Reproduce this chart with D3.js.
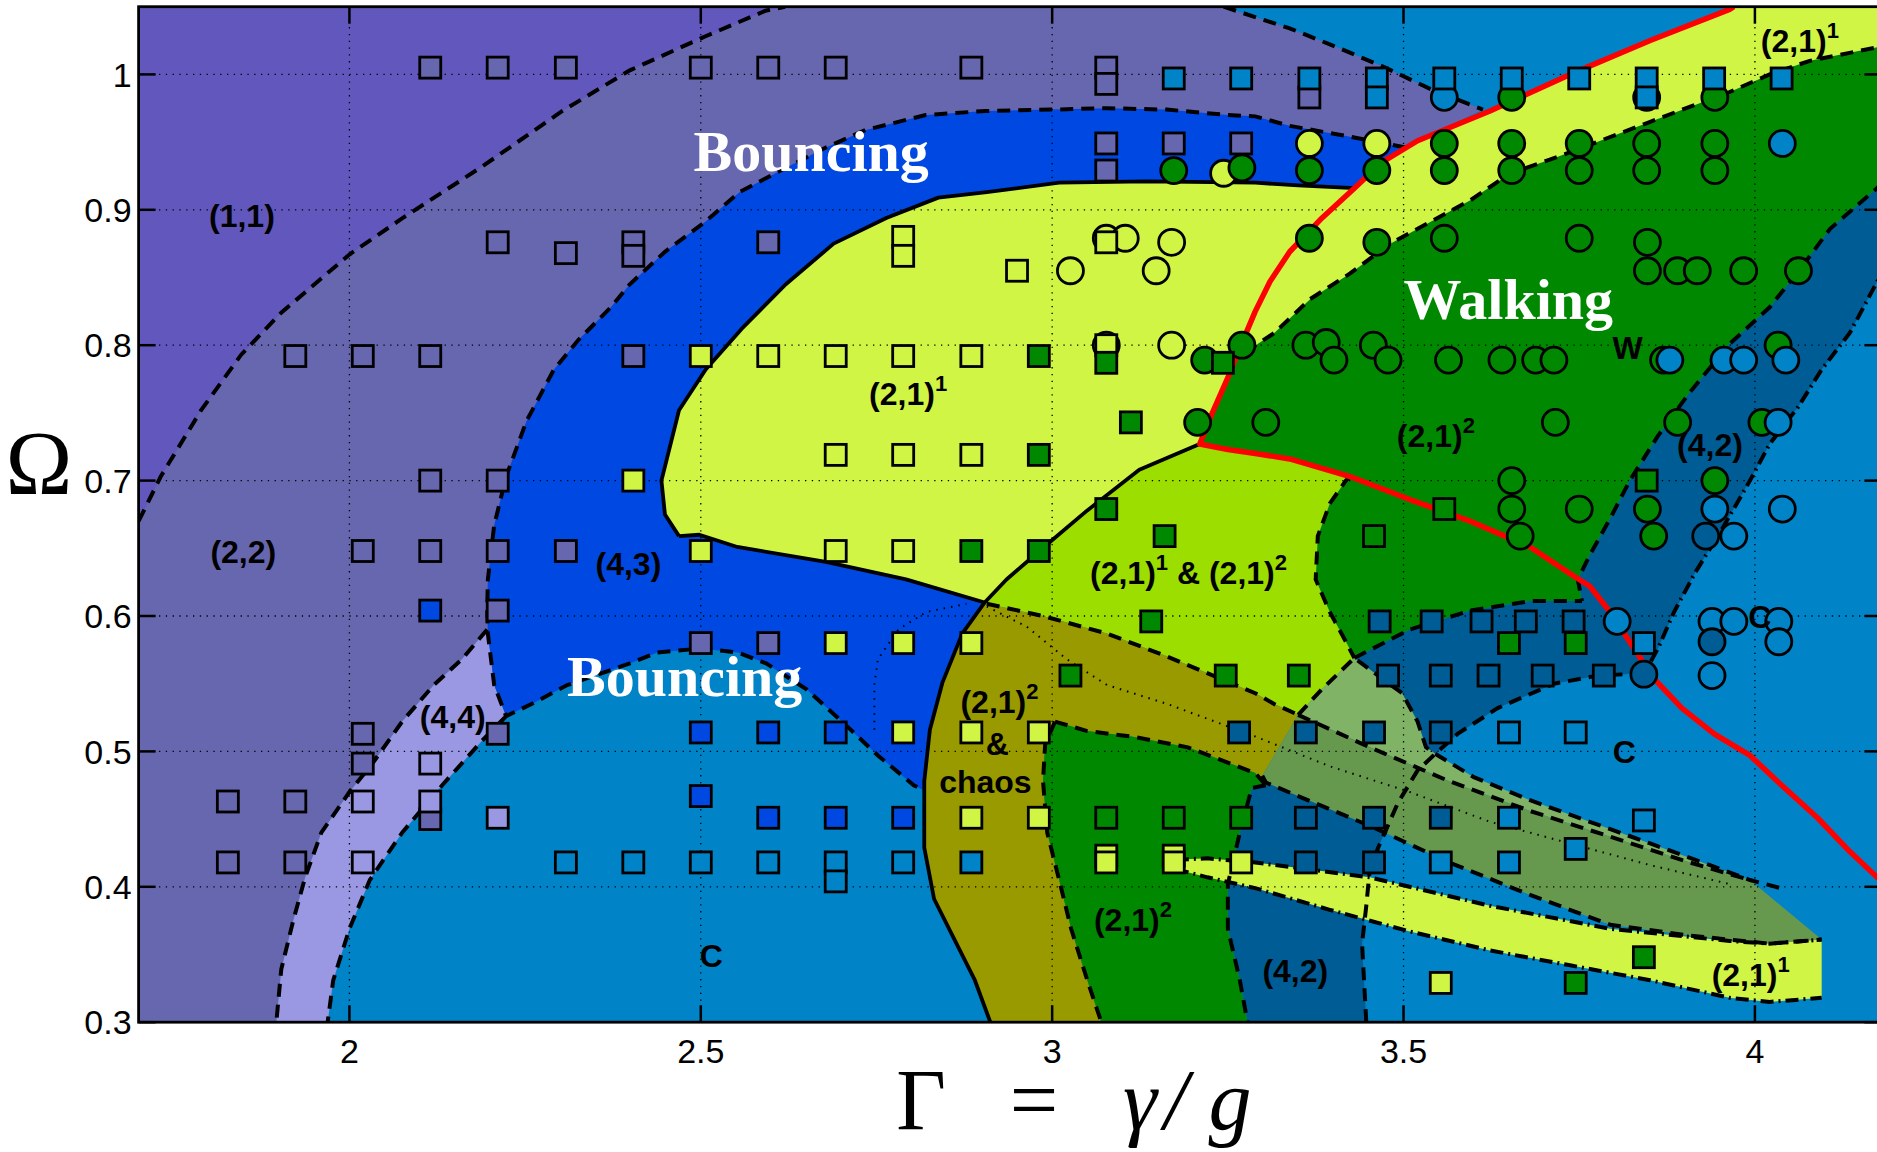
<!DOCTYPE html>
<html><head><meta charset="utf-8">
<script src="https://cdn.jsdelivr.net/npm/d3@7"></script>
<style>body{margin:0;background:#fff}svg{display:block}</style>
</head><body>
<svg id="chart" width="1877" height="1152"></svg>
<script>
// ---------- axis ticks ----------
const xTicks = [2, 2.5, 3, 3.5, 4];
const yTicks = [0.3, 0.4, 0.5, 0.6, 0.7, 0.8, 0.9, 1];
const yTickLabels = ["0.3","0.4","0.5","0.6","0.7","0.8","0.9","1"];
const xTickLabels = ["2","2.5","3","3.5","4"];

// ---------- region boundaries (Gamma, Omega) ----------
const c11 = [[1.7,0.670],[1.7315,0.703],[1.789,0.752],[1.846,0.793],[1.903,0.824],[2.0,0.867],[2.076,0.894],[2.189,0.932],[2.303,0.973],[2.399,1.003],[2.506,1.028],[2.592,1.047],[2.62,1.05]];
const cSlateTR = [[3.244,1.05],[3.338,1.034],[3.396,1.022],[3.470,1.006],[3.539,0.989],[3.613,0.974]];
const c44L = [[2.196,0.590],[2.160,0.568],[2.120,0.549],[2.075,0.522],[2.034,0.492],[2.000,0.470],[1.960,0.440],[1.937,0.407],[1.920,0.375],[1.903,0.339],[1.896,0.300]];
const c44R = [[2.223,0.526],[2.189,0.508],[2.132,0.475],[2.075,0.440],[2.029,0.405],[2.000,0.369],[1.977,0.331],[1.969,0.300]];
const c43 = [[3.503,0.946],[3.424,0.954],[3.338,0.962],[3.289,0.969],[3.250,0.970],[3.163,0.974],[3.078,0.975],[2.998,0.974],[2.905,0.973],[2.820,0.970],[2.735,0.959],[2.678,0.946],[2.621,0.931],[2.555,0.913],[2.506,0.891],[2.449,0.869],[2.399,0.845],[2.372,0.828],[2.326,0.804],[2.291,0.782],[2.252,0.744],[2.223,0.703],[2.206,0.667],[2.197,0.627],[2.196,0.604],[2.197,0.587],[2.206,0.549],[2.223,0.526],[2.263,0.536],[2.310,0.549],[2.399,0.565],[2.438,0.573],[2.500,0.576],[2.553,0.573],[2.593,0.565],[2.650,0.546],[2.701,0.522],[2.752,0.497],[2.803,0.475],[2.818,0.471]];
const cChaosL = [[2.904,0.610],[2.872,0.587],[2.844,0.551],[2.826,0.516],[2.818,0.478],[2.818,0.429],[2.832,0.391],[2.861,0.361],[2.890,0.331],[2.912,0.300]];
const cYtop = [[2.469,0.659],[2.449,0.675],[2.444,0.700],[2.469,0.752],[2.507,0.782],[2.558,0.812],[2.621,0.845],[2.689,0.875],[2.764,0.894],[2.838,0.909],[2.907,0.913],[3.010,0.920],[3.135,0.921],[3.289,0.920],[3.350,0.918],[3.430,0.916]];
const cYbot = [[2.904,0.610],[2.792,0.627],[2.678,0.640],[2.552,0.651],[2.498,0.660],[2.469,0.659]];
const cLimeL = [[2.904,0.610],[2.935,0.627],[2.993,0.653],[3.050,0.678],[3.124,0.708],[3.210,0.727]];
const redUpper = [[3.97,1.05],[3.964,1.048],[3.851,1.025],[3.737,1.000],[3.623,0.973],[3.520,0.951],[3.469,0.935],[3.430,0.916],[3.384,0.894],[3.338,0.869],[3.310,0.847],[3.289,0.825],[3.267,0.798],[3.250,0.776],[3.227,0.749],[3.210,0.727]];
const redLower = [[3.210,0.727],[3.250,0.723],[3.289,0.720],[3.338,0.716],[3.424,0.703],[3.509,0.686],[3.595,0.670],[3.680,0.651],[3.735,0.632],[3.765,0.622],[3.794,0.603],[3.828,0.576],[3.856,0.554],[3.896,0.532],[3.942,0.513],[3.993,0.497],[4.038,0.475],[4.089,0.451],[4.135,0.426],[4.174,0.407],[4.22,0.39]];
const cWalkTop = [[3.275,0.795],[3.316,0.809],[3.367,0.834],[3.424,0.853],[3.481,0.875],[3.538,0.891],[3.595,0.907],[3.652,0.927],[3.708,0.937],[3.765,0.948],[3.851,0.965],[3.907,0.976],[3.964,0.987],[4.021,1.000],[4.078,1.010],[4.174,1.020],[4.22,1.023]];
const cLimeR = [[3.424,0.703],[3.418,0.700],[3.395,0.683],[3.378,0.659],[3.375,0.627],[3.395,0.603],[3.418,0.581],[3.430,0.569]];
const cGreenLow = [[3.430,0.569],[3.509,0.590],[3.595,0.604],[3.680,0.611],[3.754,0.611]];
const c42L = [[4.22,0.945],[4.174,0.916],[4.107,0.886],[4.067,0.858],[4.021,0.828],[3.964,0.801],[3.907,0.765],[3.862,0.733],[3.822,0.700],[3.794,0.672],[3.765,0.645],[3.748,0.627],[3.754,0.611]];
const c42R = [[4.22,0.87],[4.174,0.847],[4.135,0.809],[4.095,0.782],[4.061,0.754],[4.021,0.727],[3.993,0.700],[3.953,0.664],[3.915,0.632],[3.885,0.603],[3.862,0.576],[3.845,0.560]];
const cDarkC = [[3.447,0.300],[3.441,0.358],[3.447,0.386],[3.452,0.413],[3.464,0.429],[3.492,0.462],[3.520,0.486],[3.549,0.500],[3.577,0.513],[3.634,0.532],[3.714,0.550],[3.777,0.556],[3.816,0.557],[3.845,0.560]];
const cG2L = [[3.004,0.522],[2.990,0.505],[2.987,0.478],[2.993,0.440],[3.010,0.405],[3.027,0.369],[3.050,0.331],[3.070,0.300]];
const cG2T = [[3.004,0.522],[3.050,0.515],[3.113,0.511],[3.193,0.503],[3.289,0.484],[3.304,0.475]];
const cG2R = [[3.304,0.475],[3.284,0.473],[3.267,0.440],[3.250,0.402],[3.250,0.369],[3.267,0.331],[3.278,0.300]];
const cLimeB = [[2.907,0.609],[2.987,0.600],[3.078,0.587],[3.164,0.570],[3.289,0.543],[3.316,0.535],[3.350,0.527]];
const cBandBTop = [[3.350,0.527],[3.384,0.546],[3.430,0.569],[3.469,0.554],[3.498,0.543],[3.520,0.522],[3.532,0.503],[3.549,0.497],[3.600,0.481],[3.680,0.464],[3.765,0.448],[3.851,0.432],[3.936,0.416],[3.993,0.405],[4.044,0.398]];
const cBandATop = [[3.350,0.527],[3.452,0.503],[3.565,0.478],[3.680,0.456],[3.794,0.437],[3.907,0.418],[3.993,0.405]];
const cBandABot = [[3.299,0.482],[3.304,0.477],[3.350,0.467],[3.452,0.445],[3.565,0.418],[3.680,0.394],[3.794,0.372],[3.907,0.364],[4.021,0.358],[4.095,0.361]];
const cYlowTop = [[3.176,0.420],[3.221,0.421],[3.289,0.418],[3.452,0.407],[3.623,0.386],[3.794,0.369],[3.964,0.360],[4.021,0.358],[4.095,0.361]];
const cYlowBot = [[3.176,0.413],[3.221,0.407],[3.289,0.399],[3.395,0.383],[3.509,0.367],[3.623,0.353],[3.737,0.342],[3.851,0.331],[3.964,0.318],[4.021,0.315],[4.095,0.318]];
const cDot1 = [[2.907,0.607],[2.964,0.592],[3.021,0.568],[3.078,0.549],[3.164,0.535],[3.289,0.511],[3.395,0.489],[3.509,0.470],[3.623,0.448],[3.737,0.432],[3.851,0.416],[3.964,0.402]];
const cDot2 = [[2.747,0.516],[2.747,0.549],[2.752,0.568],[2.781,0.590],[2.821,0.603],[2.878,0.609]];

// ---------- markers: squares ----------
const sqSlate = [[2.115,1.005],[2.211,1.005],[2.308,1.005],[2.5,1.005],[2.596,1.005],[2.692,1.005],[2.885,1.005],[3.077,1.005],[3.077,0.993],[3.366,0.983],[3.077,0.949],[3.173,0.949],[3.269,0.949],[3.077,0.929],[2.211,0.876],[2.404,0.876],[2.596,0.876],[2.308,0.868],[2.404,0.866],[1.923,0.792],[2.019,0.792],[2.115,0.792],[2.404,0.792],[2.115,0.700],[2.211,0.700],[2.019,0.648],[2.115,0.648],[2.211,0.648],[2.308,0.648],[2.211,0.604],[2.5,0.580],[2.596,0.580],[2.019,0.513],[2.211,0.513],[2.019,0.491],[1.827,0.463],[1.923,0.463],[2.115,0.450],[1.827,0.418],[1.923,0.418]];
const sqC = [[3.173,0.997],[3.269,0.997],[3.366,0.997],[3.462,0.997],[3.462,0.983],[3.558,0.997],[3.654,0.997],[3.750,0.997],[3.846,0.997],[3.846,0.983],[3.942,0.997],[4.038,0.997],[3.842,0.580],[3.650,0.514],[3.745,0.514],[3.650,0.451],[3.842,0.449],[3.745,0.428],[2.308,0.418],[2.404,0.418],[2.5,0.418],[2.596,0.418],[2.692,0.418],[2.692,0.404],[2.788,0.418],[2.885,0.418],[3.553,0.418],[3.650,0.418]];
const sqBright = [[2.115,0.604],[2.5,0.514],[2.596,0.514],[2.692,0.514],[2.5,0.467],[2.596,0.451],[2.692,0.451],[2.788,0.451]];
const sqYellow = [[2.788,0.880],[2.788,0.866],[3.077,0.876],[2.95,0.855],[2.5,0.792],[2.596,0.792],[2.692,0.792],[2.788,0.792],[2.885,0.792],[3.077,0.800],[2.692,0.719],[2.788,0.719],[2.885,0.719],[2.404,0.700],[2.5,0.648],[2.692,0.648],[2.788,0.648],[2.692,0.580],[2.788,0.580],[2.885,0.580],[2.788,0.514],[2.885,0.514],[2.981,0.514],[2.885,0.451],[2.981,0.451],[3.077,0.423],[3.077,0.418],[3.173,0.423],[3.173,0.418],[3.269,0.418],[3.553,0.329]];
const sqGreen = [[2.981,0.792],[3.077,0.787],[3.243,0.787],[3.112,0.743],[2.981,0.719],[3.077,0.679],[3.160,0.659],[2.885,0.648],[2.981,0.648],[3.141,0.596],[3.026,0.556],[3.247,0.556],[3.351,0.556],[3.650,0.580],[3.745,0.580],[3.077,0.451],[3.173,0.451],[3.269,0.451],[3.558,0.679],[3.458,0.659],[3.846,0.700],[3.745,0.329],[3.842,0.348]];
const sqLav = [[2.115,0.491],[2.019,0.463],[2.115,0.463],[2.211,0.451],[2.019,0.418]];
const sqDark = [[3.466,0.596],[3.540,0.596],[3.611,0.596],[3.674,0.596],[3.742,0.596],[3.478,0.556],[3.553,0.556],[3.621,0.556],[3.698,0.556],[3.785,0.556],[3.266,0.514],[3.361,0.514],[3.458,0.514],[3.553,0.514],[3.361,0.451],[3.458,0.451],[3.553,0.451],[3.361,0.418],[3.458,0.418]];

// ---------- markers: circles ----------
const cirYellow = [[3.244,0.927],[3.366,0.949],[3.462,0.949],[3.077,0.879],[3.104,0.879],[3.170,0.876],[3.026,0.855],[3.148,0.855],[3.077,0.800],[3.170,0.800]];
const cirGreen = [[3.654,0.983],[3.943,0.983],[3.558,0.949],[3.654,0.949],[3.750,0.949],[3.846,0.949],[3.943,0.949],[3.173,0.929],[3.270,0.931],[3.366,0.929],[3.462,0.929],[3.558,0.929],[3.654,0.929],[3.750,0.929],[3.846,0.929],[3.943,0.929],[3.366,0.879],[3.462,0.876],[3.558,0.879],[3.750,0.879],[3.847,0.876],[3.847,0.855],[3.890,0.855],[3.918,0.855],[3.984,0.855],[4.062,0.855],[3.270,0.800],[3.361,0.800],[3.390,0.802],[3.457,0.800],[4.033,0.800],[3.217,0.789],[3.401,0.789],[3.478,0.789],[3.564,0.789],[3.640,0.789],[3.688,0.789],[3.714,0.789],[3.870,0.789],[3.207,0.743],[3.304,0.743],[3.716,0.743],[3.890,0.743],[4.010,0.743],[3.654,0.700],[3.943,0.700],[3.654,0.679],[3.750,0.679],[3.847,0.679],[3.666,0.659],[3.856,0.659]];
const cirC = [[3.558,0.983],[4.039,0.949],[3.879,0.789],[3.956,0.789],[3.984,0.789],[4.044,0.789],[4.033,0.743],[3.943,0.679],[4.039,0.679],[3.970,0.659],[3.804,0.596],[3.939,0.596],[3.970,0.596],[4.034,0.596],[4.034,0.581],[3.939,0.556]];
const cirDark = [[3.846,0.983],[3.930,0.659],[3.939,0.581],[3.842,0.557]];

// ---------- region labels ----------
const smallLabels = [["(1,1)",1.847,0.896],["(2,2)",1.849,0.648],["(4,4)",2.147,0.526],["(4,3)",2.397,0.639],["(2,1)^1",2.795,0.764],["(2,1)^1 & (2,1)^2",3.194,0.632],["(2,1)^2",2.925,0.537],["&",2.922,0.506],["chaos",2.905,0.478],["(2,1)^2",3.115,0.376],["(4,2)",3.346,0.338],["(2,1)^1",3.994,0.335],["(2,1)^2",3.546,0.733],["(4,2)",3.936,0.727],["W",3.819,0.798],["C",2.515,0.349],["C",3.814,0.500],["C",4.007,0.600],["(2,1)^1",4.064,1.025]];
const bigLabels = [["Bouncing",2.657,0.929],["Bouncing",2.477,0.541],["Walking",3.649,0.819]];

// ---------- drawing ----------
const col = {C:"#0083c7", slate:"#6767af", purple:"#6157bd", lav:"#9a98e2", bright:"#0048e2", yellow:"#d0f545", lime:"#9bde00", green:"#008900", olive:"#999900", dark:"#005c94", bandA:"#66994d", bandB:"#80b366"};
const svg = d3.select("#chart");
const x = d3.scaleLinear().domain([1.7, 4.18]).range([138.6, 1881.4]);
const y = d3.scaleLinear().domain([0.3, 1.05]).range([1022.2, 6.7]);
const X0 = x(1.7), X1 = x(4.18), Y0 = y(1.05), Y1 = y(0.3);
svg.append("defs").append("clipPath").attr("id","clip").append("rect")
  .attr("x",X0).attr("y",Y0).attr("width",X1-X0).attr("height",Y1-Y0);
const g = svg.append("g").attr("clip-path","url(#clip)");
const line = d3.line().x(d=>x(d[0])).y(d=>y(d[1]));
const rev = a => a.slice().reverse();

const reg22 = [[1.7,0.3],[1.7,1.05], ...cSlateTR, [3.520,0.951],[3.469,0.935],[3.0,0.80],[2.4,0.65], ...c44L];
const reg11 = [[1.7,1.05], ...c11];
const reg44 = [...c44L, ...rev(c44R), [2.206,0.549],[2.197,0.587]];
const reg43 = [...c43, [2.818,0.478],[2.826,0.516],[2.844,0.551],[2.872,0.587],[2.904,0.610],[3.2,0.75],[3.40,0.90]];
const regWalk = [[3.210,0.727],[3.227,0.749],[3.250,0.776],[3.267,0.798], ...cWalkTop, ...c42L, ...rev(cGreenLow), ...rev(cLimeR), [3.338,0.716],[3.289,0.720],[3.250,0.723]];
const regDark = [...c42L, ...rev(cGreenLow), [3.35,0.52],[3.30,0.48], ...cG2R, ...cDarkC, ...rev(c42R)];
const regY1 = [...cYtop, [3.469,0.935],[3.520,0.951],[3.623,0.973],[3.737,1.000],[3.851,1.025],[3.964,1.048],[3.97,1.05],[4.22,1.05], ...rev(cWalkTop), [3.267,0.798],[3.250,0.776],[3.227,0.749], ...rev(cLimeL), ...cYbot];
const regLime = [...cLimeL, [3.250,0.723],[3.289,0.720],[3.338,0.716], ...cLimeR, [3.384,0.546],[3.350,0.527], ...rev(cLimeB)];
const regChaos = [...cChaosL, ...rev(cG2L), ...cG2T.slice(1), [3.299,0.482],[3.350,0.527], ...rev(cLimeB)];
const regG2 = [...cG2T, ...cG2R.slice(1), ...rev(cG2L)];
const regBandB = [...cBandBTop.slice(0,14), ...rev(cBandATop)];
const regBandA = [...cBandATop, [4.095,0.361], ...rev(cBandABot)];
const regYlow = [...cYlowTop, ...rev(cYlowBot)];

g.append("rect").attr("x",X0).attr("y",Y0).attr("width",X1-X0).attr("height",Y1-Y0).attr("fill",col.C);
[[reg22,col.slate],[reg11,col.purple],[reg44,col.lav],[reg43,col.bright],[regWalk,col.green],[regDark,col.dark],[regY1,col.yellow],[regLime,col.lime],[regChaos,col.olive],[regG2,col.green],[regBandB,col.bandB],[regBandA,col.bandA],[regYlow,col.yellow]]
  .forEach(([pts,c]) => g.append("path").attr("d", line(pts)+"Z").attr("fill",c).attr("stroke","none"));

// grid
xTicks.forEach(t => g.append("line").attr("x1",x(t)).attr("x2",x(t)).attr("y1",Y0).attr("y2",Y1)
  .attr("stroke","#000").attr("stroke-width",1.3).attr("stroke-dasharray","1.3,5.5"));
yTicks.slice(1).forEach(t => g.append("line").attr("x1",X0).attr("x2",X1).attr("y1",y(t)).attr("y2",y(t))
  .attr("stroke","#000").attr("stroke-width",1.3).attr("stroke-dasharray","1.3,5.5"));

// boundaries
const dashed = [c11,cSlateTR,c43,c44L,c44R,cWalkTop,cLimeR,cGreenLow,c42L,cDarkC,cG2L,cG2T,cG2R,cLimeB,cBandBTop,cBandATop,cBandABot];
const dashdot = [c42R,cYlowTop,cYlowBot];
const solid = [cYtop,cYbot,cChaosL,cLimeL];
const dotted = [cDot1,cDot2];
dashed.forEach(p => g.append("path").attr("d",line(p)).attr("fill","none").attr("stroke","#000").attr("stroke-width",4).attr("stroke-dasharray","13,8"));
dashdot.forEach(p => g.append("path").attr("d",line(p)).attr("fill","none").attr("stroke","#000").attr("stroke-width",4).attr("stroke-dasharray","13,5,2,5"));
solid.forEach(p => g.append("path").attr("d",line(p)).attr("fill","none").attr("stroke","#000").attr("stroke-width",3.8).attr("stroke-linejoin","round"));
dotted.forEach(p => g.append("path").attr("d",line(p)).attr("fill","none").attr("stroke","#000").attr("stroke-width",2).attr("stroke-dasharray","1.5,6"));
g.append("path").attr("d",line([...redUpper, ...redLower.slice(1)])).attr("fill","none").attr("stroke","#ff0000").attr("stroke-width",5.5).attr("stroke-linejoin","round");

// markers
const R = 13, S = 21;
[[cirYellow,col.yellow],[cirGreen,col.green],[cirC,col.C],[cirDark,col.dark]].forEach(([pts,c]) =>
  g.selectAll(null).data(pts).enter().append("circle").attr("cx",d=>x(d[0])).attr("cy",d=>y(d[1])).attr("r",R)
    .attr("fill",c).attr("stroke","#000").attr("stroke-width",2.8));
[[sqSlate,col.slate],[sqC,col.C],[sqBright,col.bright],[sqYellow,col.yellow],[sqGreen,col.green],[sqLav,col.lav],[sqDark,col.dark]].forEach(([pts,c]) =>
  g.selectAll(null).data(pts).enter().append("rect").attr("x",d=>x(d[0])-S/2).attr("y",d=>y(d[1])-S/2).attr("width",S).attr("height",S)
    .attr("fill",c).attr("stroke","#000").attr("stroke-width",2.8));

// labels
smallLabels.forEach(([txt,gx,oy]) => {
  const t = g.append("text").attr("x",x(gx)).attr("y",y(oy)).attr("dy","0.36em").attr("text-anchor","middle")
    .attr("font-family","'Liberation Sans',Arial,sans-serif").attr("font-weight","bold").attr("font-size",32).attr("fill","#000");
  const parts = txt.split(/\^(\d)/);
  parts.forEach((p,i) => {
    if (!p) return;
    if (i % 2 === 1) t.append("tspan").attr("dy",-14).attr("font-size",22).text(p);
    else { const s = t.append("tspan").text(p); if (i>0) s.attr("dy",14); }
  });
});
bigLabels.forEach(([txt,gx,oy]) => g.append("text").attr("x",x(gx)).attr("y",y(oy)).attr("text-anchor","middle")
  .attr("font-family","'Liberation Serif','Times New Roman',serif").attr("font-weight","bold").attr("font-size",58).attr("fill","#fff").text(txt));

// axes box and ticks
svg.append("rect").attr("x",X0).attr("y",Y0).attr("width",X1-X0).attr("height",Y1-Y0).attr("fill","none").attr("stroke","#000").attr("stroke-width",2.8);
const TL = 17;
xTicks.forEach(t => {
  svg.append("line").attr("x1",x(t)).attr("x2",x(t)).attr("y1",Y1).attr("y2",Y1-TL).attr("stroke","#000").attr("stroke-width",2.5);
  svg.append("line").attr("x1",x(t)).attr("x2",x(t)).attr("y1",Y0).attr("y2",Y0+TL).attr("stroke","#000").attr("stroke-width",2.5);
});
yTicks.forEach(t => {
  svg.append("line").attr("x1",X0).attr("x2",X0+TL).attr("y1",y(t)).attr("y2",y(t)).attr("stroke","#000").attr("stroke-width",2.5);
  svg.append("line").attr("x1",X1).attr("x2",X1-TL).attr("y1",y(t)).attr("y2",y(t)).attr("stroke","#000").attr("stroke-width",2.5);
});
const tickFont = "'Liberation Sans',Arial,Helvetica,sans-serif";
svg.selectAll(null).data(yTicks).enter().append("text").attr("x",X0-7).attr("y",d=>y(d)).attr("dy","0.36em")
  .attr("text-anchor","end").attr("font-family",tickFont).attr("font-size",34).text((d,i)=>yTickLabels[i]);
svg.selectAll(null).data(xTicks).enter().append("text").attr("x",d=>x(d)).attr("y",Y1+41)
  .attr("text-anchor","middle").attr("font-family",tickFont).attr("font-size",34).text((d,i)=>xTickLabels[i]);

// axis titles
const serif = "'Liberation Serif','Times New Roman',serif";
svg.append("text").attr("x",39).attr("y",494).attr("text-anchor","middle").attr("font-family",serif).attr("font-size",90).text("Ω");
svg.append("text").attr("x",921).attr("y",1129).attr("text-anchor","middle").attr("font-family",serif).attr("font-size",86).text("Γ");
svg.append("text").attr("x",1034).attr("y",1129).attr("text-anchor","middle").attr("font-family",serif).attr("font-size",86).text("=");
svg.append("text").attr("x",1140).attr("y",1129).attr("text-anchor","middle").attr("font-family",serif).attr("font-style","italic").attr("font-size",86).text("γ");
svg.append("text").attr("x",1176).attr("y",1129).attr("text-anchor","middle").attr("font-family",serif).attr("font-style","italic").attr("font-size",86).text("/");
svg.append("text").attr("x",1230).attr("y",1129).attr("text-anchor","middle").attr("font-family",serif).attr("font-style","italic").attr("font-size",86).text("g");
</script>
</body></html>
